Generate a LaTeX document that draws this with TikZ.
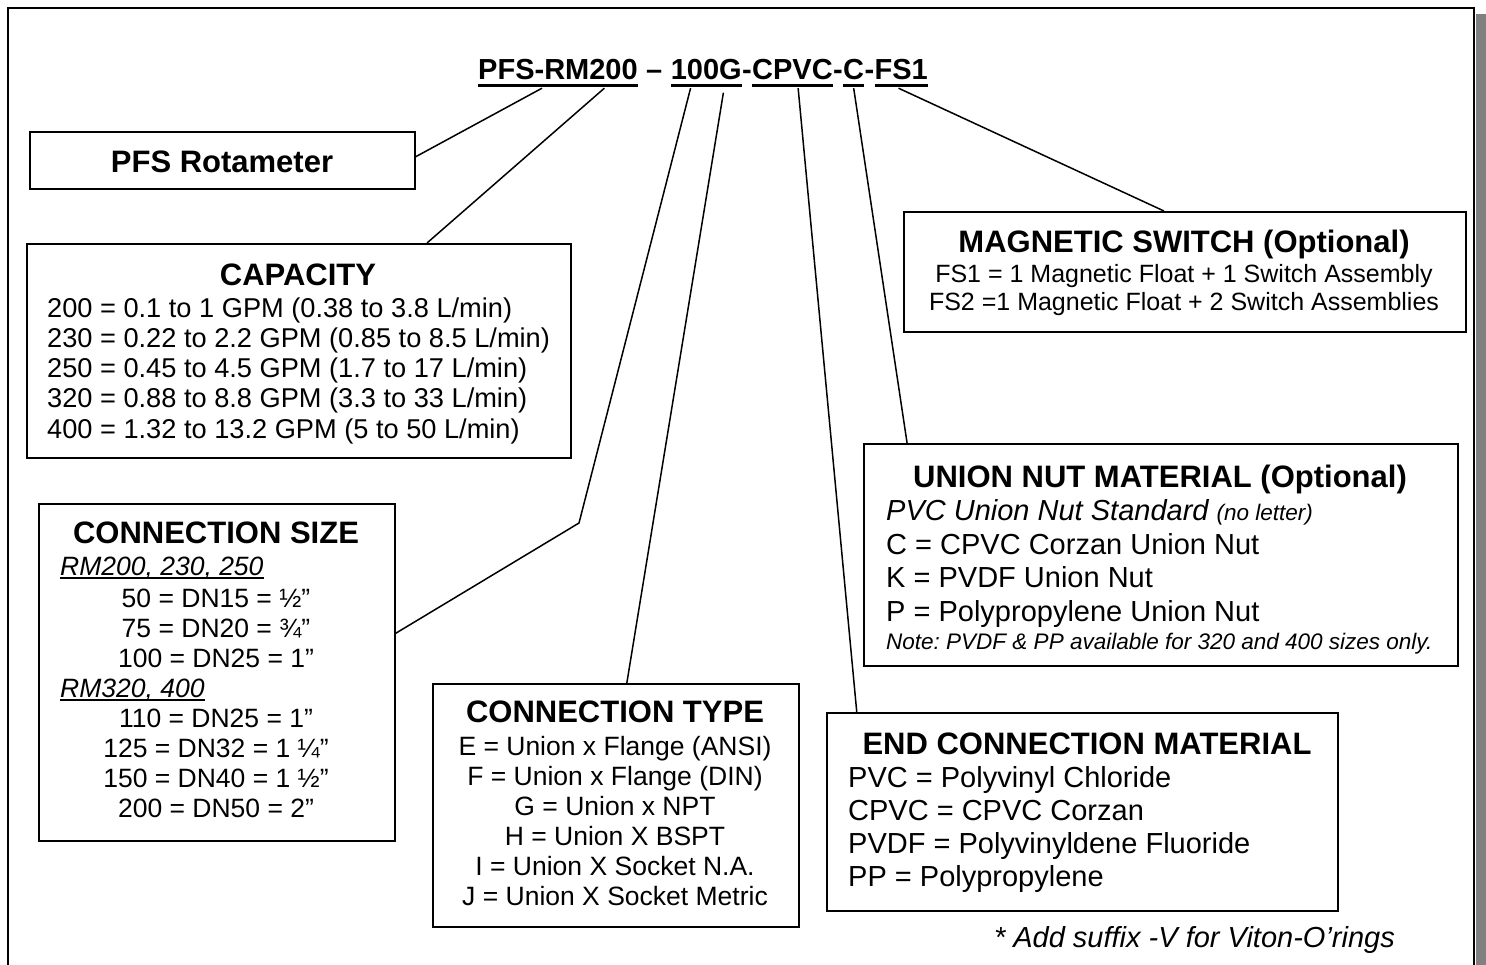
\documentclass[tikz,border=0pt]{standalone}
\usepackage{fontspec}
\setmainfont{Liberation Sans}
\usetikzlibrary{calc}
\frenchspacing
\definecolor{shadowgray}{HTML}{808080}
\newcommand\fsz[2]{\fontsize{#1}{#2}\selectfont}
\newcommand\ulthick[1]{\setbox0\hbox{#1}\rlap{\rule[-7.5pt]{\wd0}{2.2pt}}\box0}
\newcommand\ulthin[1]{\setbox0\hbox{#1}\rlap{\rule[-3.8pt]{\wd0}{1.4pt}}\box0}
\tikzset{
  boxsty/.style={draw, line width=1.6pt, anchor=north west, inner sep=0pt},
  hdtxt/.style={inner sep=0pt, anchor=base, font=\fsz{31}{34}\bfseries},
  bodytxt/.style={inner sep=0pt},
  ttltxt/.style={inner sep=0pt, anchor=base west, font=\fsz{29}{32}\bfseries},
  connline/.style={line width=1.5pt}
}
\begin{document}
\begin{tikzpicture}[x=1pt,y=-1pt]
\useasboundingbox (0,0) rectangle (1486,964);
\clip (0,0) rectangle (1486,964);
% page frame and shadow
\fill[shadowgray] (1476,14) rectangle (1486,1000);
\draw[line width=2.5pt] (8,1000) -- (8,8) -- (1474,8) -- (1474,1000);

% title
\node[ttltxt] (t1) at (478,79) {\ulthick{PFS-RM200}};
\node[ttltxt] (d1) at (t1.base east) {\ –\ \mbox{}};
\node[ttltxt] (t2) at (d1.base east) {\ulthick{100G}};
\node[ttltxt] (d2) at (t2.base east) {-};
\node[ttltxt] (t3) at (d2.base east) {\ulthick{CPVC}};
\node[ttltxt] (d3) at (t3.base east) {-};
\node[ttltxt] (t4) at (d3.base east) {\ulthick{C}};
\node[ttltxt] (d4) at (t4.base east) {-};
\node[ttltxt] (t5) at (d4.base east) {\ulthick{FS1}};

% PFS Rotameter
\node[boxsty, minimum width=385pt, minimum height=57pt] (rot) at (29,131) {};
\node[hdtxt] (rotT) at (222,172) {PFS Rotameter};

% CAPACITY
\node[boxsty, minimum width=544pt, minimum height=214pt] (cap) at (26,243) {};
\node[hdtxt] (capH) at (298,285) {CAPACITY};
\node[bodytxt, anchor=base west, font=\fsz{27.2}{30.3}] (capT) at (47,317) {\begin{tabular}[t]{@{}l@{}}
200 = 0.1 to 1 GPM (0.38 to 3.8 L/min)\\
230 = 0.22 to 2.2 GPM (0.85 to 8.5 L/min)\\
250 = 0.45 to 4.5 GPM (1.7 to 17 L/min)\\
320 = 0.88 to 8.8 GPM (3.3 to 33 L/min)\\
400 = 1.32 to 13.2 GPM (5 to 50 L/min)\end{tabular}};

% CONNECTION SIZE
\node[boxsty, minimum width=356pt, minimum height=337pt] (csz) at (38,503) {};
\node[hdtxt] (cszH) at (216,543) {CONNECTION SIZE};
\node[bodytxt, anchor=base west, font=\fsz{26.5}{30}\itshape] (rmA) at (60,575) {\ulthin{RM200, 230, 250}};
\node[bodytxt, anchor=base, font=\fsz{26.5}{30}] (szA) at (216,607) {\begin{tabular}[t]{@{}c@{}}
50 = DN15 = ½”\\
75 = DN20 = ¾”\\
100 = DN25 = 1”\end{tabular}};
\node[bodytxt, anchor=base west, font=\fsz{26.5}{30}\itshape] (rmB) at (60,697) {\ulthin{RM320, 400}};
\node[bodytxt, anchor=base, font=\fsz{26.5}{30}] (szB) at (216,727) {\begin{tabular}[t]{@{}c@{}}
110 = DN25 = 1”\\
125 = DN32 = 1 ¼”\\
150 = DN40 = 1 ½”\\
200 = DN50 = 2”\end{tabular}};

% CONNECTION TYPE
\node[boxsty, minimum width=366pt, minimum height=243pt] (ctype) at (432,683) {};
\node[hdtxt] (ctypeH) at (615,722) {CONNECTION TYPE};
\node[bodytxt, anchor=base, font=\fsz{26.5}{30}] (ctypeT) at (615,755) {\begin{tabular}[t]{@{}c@{}}
E = Union x Flange (ANSI)\\
F = Union x Flange (DIN)\\
G = Union x NPT\\
H = Union X BSPT\\
I = Union X Socket N.A.\\
J = Union X Socket Metric\end{tabular}};

% END CONNECTION MATERIAL
\node[boxsty, minimum width=511pt, minimum height=198pt] (ecm) at (826,712) {};
\node[hdtxt] (ecmH) at (1087,754) {END CONNECTION MATERIAL};
\node[bodytxt, anchor=base west, font=\fsz{29}{33.3}] (ecmT) at (848,787) {\begin{tabular}[t]{@{}l@{}}
PVC = Polyvinyl Chloride\\
CPVC = CPVC Corzan\\
PVDF = Polyvinyldene Fluoride\\
PP = Polypropylene\end{tabular}};

% UNION NUT MATERIAL
\node[boxsty, minimum width=594pt, minimum height=222pt] (unm) at (863,443) {};
\node[hdtxt] (unmH) at (1160,487) {UNION NUT MATERIAL (Optional)};
\node[bodytxt, anchor=base west, font=\fsz{29}{33.5}\itshape] (unmA) at (886,520) {PVC Union Nut Standard {\fsz{22.5}{26}(no letter)}};
\node[bodytxt, anchor=base west, font=\fsz{29}{33.5}] (unmT) at (886,554) {\begin{tabular}[t]{@{}l@{}}
C = CPVC Corzan Union Nut\\
K = PVDF Union Nut\\
P = Polypropylene Union Nut\end{tabular}};
\node[bodytxt, anchor=base west, font=\fsz{22.5}{26}\itshape] (unmN) at (886,649) {Note: PVDF \& PP available for 320 and 400 sizes only.};

% MAGNETIC SWITCH
\node[boxsty, minimum width=562pt, minimum height=120pt] (mag) at (903,211) {};
\node[hdtxt] (magH) at (1184,252) {MAGNETIC SWITCH (Optional)};
\node[bodytxt, anchor=base, font=\fsz{25}{28}] (magT) at (1184,282) {\begin{tabular}[t]{@{}c@{}}
FS1 = 1 Magnetic Float + 1 Switch Assembly\\
FS2 =1 Magnetic Float + 2 Switch Assemblies\end{tabular}};

% footnote
\node[bodytxt, anchor=base east, font=\fsz{29}{32}\itshape] (foot) at (1395,947) {* Add suffix -V for Viton-O’rings};

% connectors
\coordinate (s1) at ($(t1.south west)!0.40!(t1.south east)+(0,1.5)$);
\coordinate (s2) at ($(t1.south west)!0.79!(t1.south east)+(0,1.5)$);
\coordinate (s3) at ($(t2.south west)!0.28!(t2.south east)+(0,1.5)$);
\coordinate (s4) at ($(t2.south west)!0.74!(t2.south east)+(0,6)$);
\coordinate (s5) at ($(t3.south west)!0.57!(t3.south east)+(0,1.5)$);
\coordinate (s6) at ($(t4.south west)!0.5!(t4.south east)+(0,1.5)$);
\coordinate (s7) at ($(t5.south west)!0.45!(t5.south east)+(0,1.5)$);
\coordinate (k1) at (579,523);

\draw[connline] (s1) -- ($(rot.north east)!0.44!(rot.south east)$);
\draw[connline] (s2) -- ($(cap.north west)!0.735!(cap.north east)$);
\draw[connline] (s3) -- (k1) -- ($(csz.north east)!0.385!(csz.south east)$);
\draw[connline] (s4) -- ($(ctype.north west)!0.53!(ctype.north east)$);
\draw[connline] (s5) -- ($(ecm.north west)!0.06!(ecm.north east)$);
\draw[connline] (s6) -- ($(unm.north west)!0.074!(unm.north east)$);
\draw[connline] (s7) -- ($(mag.north west)!0.463!(mag.north east)$);
\end{tikzpicture}
\end{document}
